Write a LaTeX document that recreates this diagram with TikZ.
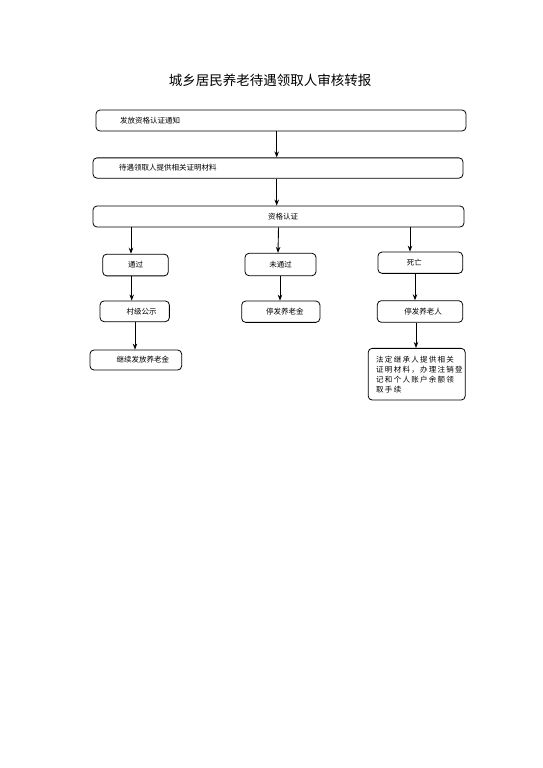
\documentclass[tikz,border=0pt]{standalone}
\usepackage{fontspec}
\setmainfont{Noto Sans CJK SC}
\newfontfamily\spacedcjk[LetterSpace=17]{Noto Sans CJK SC}
\usetikzlibrary{arrows.meta}

\tikzset{
  stepbox/.style={draw, line width=0.8pt, rounded corners=4pt, inner sep=0pt,
    font=\fontsize{7.5}{10}\selectfont},
  arr/.style={-{Stealth[length=6pt,width=4.5pt]}, line width=0.9pt}
}

\begin{document}
\begin{tikzpicture}[x=1pt, y=-1pt]

% page frame
\useasboundingbox (0,0) rectangle (542,768);

% Title
\node[font=\fontsize{13.5}{15}\selectfont] (title) at (270,80.5) {城乡居民养老待遇领取人审核转报};

% Full-width steps
\node[stepbox, minimum width=370pt, minimum height=21pt, text width=322pt, inner xsep=24pt, align=left]
  (notice) at (281,120.5) {发放资格认证通知};
\node[stepbox, minimum width=370pt, minimum height=20.3pt, text width=318pt, inner xsep=26pt, align=left]
  (provide) at (278,168) {待遇领取人提供相关证明材料};
\node[stepbox, minimum width=371pt, minimum height=21pt] (check) at (278.5,216.5) {\hspace*{9pt}资格认证};

% Three outcomes
\node[stepbox, minimum width=65.6pt, minimum height=21.7pt] (pass) at (135.5,265) {通过};
\node[stepbox, minimum width=71pt, minimum height=22.4pt] (fail) at (280.5,264.5) {未通过};
\node[stepbox, minimum width=84.7pt, minimum height=21.3pt] (death) at (420.3,262.7) {死亡\hspace*{12pt}};

% Second level
\node[stepbox, minimum width=69.3pt, minimum height=20.7pt] (publicity) at (134.7,311.3) {\hspace*{14pt}村级公示};
\node[stepbox, minimum width=78.3pt, minimum height=21.3pt] (stopfund) at (280.8,311.7) {\hspace*{8pt}停发养老金};
\node[stepbox, minimum width=85.4pt, minimum height=21.6pt] (stopperson) at (420,311.5) {\hspace*{6pt}停发养老人};

% Third level
\node[stepbox, minimum width=91.7pt, minimum height=20pt] (continue) at (135.8,360) {\hspace*{14pt}继续发放养老金};
\node[stepbox, minimum width=96.7pt, minimum height=51.7pt, text width=81pt, inner xsep=8pt, align=left,
  font=\spacedcjk\fontsize{7.5}{10}\selectfont]
  (heir) at (416.7,374.2) {法定继承人提供相关\\证明材料，办理注销登\\记和个人账户余额领\\取手续\\[2pt]};

% Connectors
\draw[arr] ([xshift=-4.3pt]notice.south) -- ([xshift=-1.3pt]provide.north);
\draw[arr] ([xshift=-1.3pt]provide.south) -- ([xshift=-1.8pt]check.north);
\draw[arr] ([xshift=-147.5pt]check.south) -- ([xshift=-4.5pt]pass.north);
\draw[arr] (check.south) -- ([xshift=-2.5pt]fail.north);
\draw[arr] ([xshift=131.5pt]check.south) -- ([xshift=-10.3pt]death.north);
\draw[arr] ([xshift=-3.8pt]pass.south) -- ([xshift=-3pt]publicity.north);
\draw[arr] ([xshift=-0.5pt]fail.south) -- ([xshift=-0.8pt]stopfund.north);
\draw[arr] ([xshift=-5.3pt]death.south) -- ([xshift=-5pt]stopperson.north);
\draw[arr] ([xshift=0.3pt]publicity.south) -- ([xshift=-0.8pt]continue.north);
\draw[arr] ([xshift=-4pt]stopperson.south) -- ([xshift=-0.7pt]heir.north);

\end{tikzpicture}
\end{document}
